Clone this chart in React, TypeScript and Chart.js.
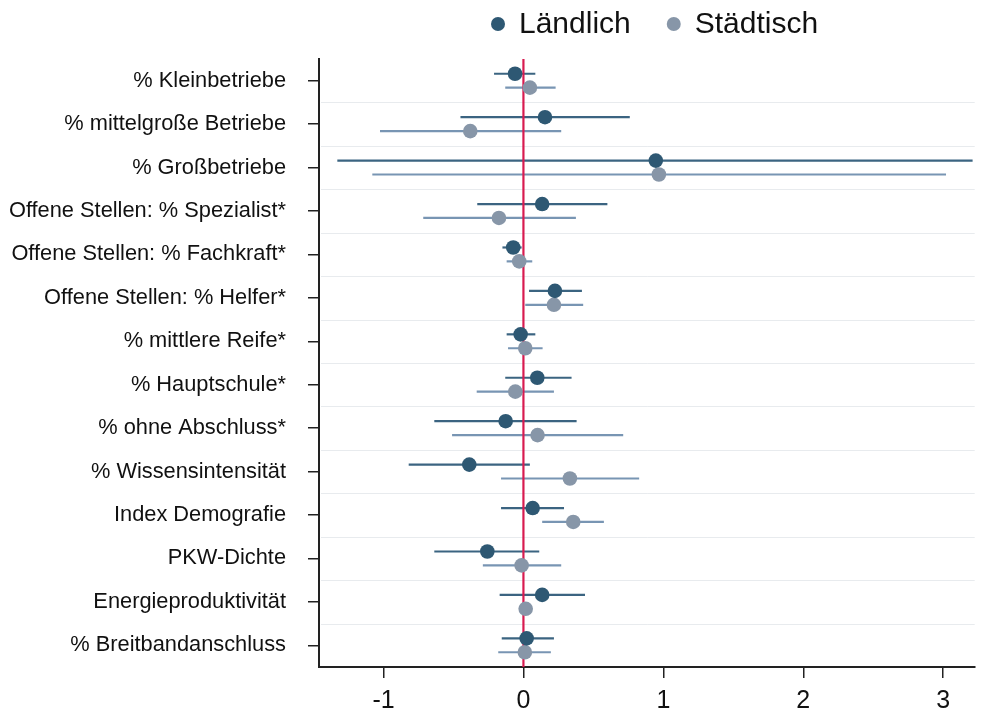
import React, { useEffect, useRef } from "react";
import { Chart, registerables } from "chart.js";

Chart.register(...registerables);

const categories = [
  "% Kleinbetriebe",
  "% mittelgroße Betriebe",
  "% Großbetriebe",
  "Offene Stellen: % Spezialist*",
  "Offene Stellen: % Fachkraft*",
  "Offene Stellen: % Helfer*",
  "% mittlere Reife*",
  "% Hauptschule*",
  "% ohne Abschluss*",
  "% Wissensintensität",
  "Index Demografie",
  "PKW-Dichte",
  "Energieproduktivität",
  "% Breitbandanschluss",
];

const seriesNames = ["Ländlich", "Städtisch"];

const landEst = [-0.06, 0.154, 0.946, 0.134, -0.073, 0.225, -0.02, 0.099, -0.127, -0.387, 0.066, -0.258, 0.134, 0.023];
const landLo = [-0.21, -0.45, -1.33, -0.33, -0.15, 0.04, -0.12, -0.13, -0.637, -0.82, -0.16, -0.637, -0.17, -0.155];
const landHi = [0.085, 0.76, 3.21, 0.6, -0.013, 0.418, 0.085, 0.344, 0.38, 0.046, 0.29, 0.113, 0.44, 0.218];

const stadtEst = [0.046, -0.38, 0.968, -0.175, -0.03, 0.218, 0.013, -0.058, 0.101, 0.332, 0.356, -0.013, 0.016, 0.01];
const stadtLo = [-0.13, -1.025, -1.08, -0.716, -0.12, 0.013, -0.11, -0.334, -0.51, -0.16, 0.134, -0.29, -0.01, -0.18];
const stadtHi = [0.23, 0.27, 3.02, 0.375, 0.063, 0.427, 0.137, 0.218, 0.713, 0.827, 0.575, 0.27, 0.04, 0.196];

const xTickValues = [-1, 0, 1, 2, 3];

const FONT = "'Liberation Sans', Arial, Helvetica, sans-serif";
const DARK_PT = "#2e5873";
const LIGHT_PT = "#8796a8";
const DARK_LINE = "#3b6481";
const LIGHT_LINE = "#7895b3";
const RED = "#d81b50";
const OFFSET = 0.16;

export default function App() {
  const ref = useRef<HTMLCanvasElement | null>(null);

  useEffect(() => {
    if (!ref.current) return;

    const errorBars = {
      id: "errorBars",
      beforeDatasetsDraw(chart: any) {
        const { ctx, chartArea, scales } = chart;
        const x = scales.x;
        const y = scales.y;
        ctx.save();
        ctx.strokeStyle = "#e8ebee";
        ctx.lineWidth = 1;
        for (let i = 1; i < categories.length; i++) {
          const py = Math.round(y.getPixelForValue(i + 0.5)) + 0.5;
          ctx.beginPath();
          ctx.moveTo(chartArea.left + 2, py);
          ctx.lineTo(chartArea.right, py);
          ctx.stroke();
        }
        const drawSet = (lo: number[], hi: number[], off: number, color: string) => {
          ctx.strokeStyle = color;
          ctx.lineWidth = 2.2;
          lo.forEach((l, i) => {
            const py = y.getPixelForValue(i + 1 + off);
            ctx.beginPath();
            ctx.moveTo(x.getPixelForValue(l), py);
            ctx.lineTo(x.getPixelForValue(hi[i]), py);
            ctx.stroke();
          });
        };
        drawSet(landLo, landHi, -OFFSET, DARK_LINE);
        drawSet(stadtLo, stadtHi, OFFSET, LIGHT_LINE);
        const zx = x.getPixelForValue(0);
        ctx.strokeStyle = RED;
        ctx.lineWidth = 2.2;
        ctx.beginPath();
        ctx.moveTo(zx, chartArea.top);
        ctx.lineTo(zx, chartArea.bottom);
        ctx.stroke();
        ctx.restore();
      },
      afterDraw(chart: any) {
        const { ctx } = chart;
        ctx.save();
        ctx.font = `30px ${FONT}`;
        ctx.textBaseline = "middle";
        ctx.textAlign = "left";
        const colors = [DARK_PT, LIGHT_PT];
        let lx = 491;
        const ly = 24;
        seriesNames.forEach((name, i) => {
          ctx.fillStyle = colors[i];
          ctx.beginPath();
          ctx.arc(lx + 7, ly, 7, 0, Math.PI * 2);
          ctx.fill();
          ctx.fillStyle = "#111";
          ctx.fillText(name, lx + 28, ly + 1);
          lx += 28 + ctx.measureText(name).width + 36;
        });
        ctx.restore();
      },
    };

    const chart = new Chart(ref.current, {
      type: "scatter",
      data: {
        datasets: [
          {
            label: seriesNames[0],
            data: landEst.map((v, i) => ({ x: v, y: i + 1 - OFFSET })),
            backgroundColor: DARK_PT,
            borderWidth: 0,
            pointRadius: 7.3,
          },
          {
            label: seriesNames[1],
            data: stadtEst.map((v, i) => ({ x: v, y: i + 1 + OFFSET })),
            backgroundColor: LIGHT_PT,
            borderWidth: 0,
            pointRadius: 7.3,
          },
        ],
      },
      options: {
        animation: false,
        responsive: true,
        maintainAspectRatio: false,
        layout: { padding: { top: 59, right: 0, bottom: 0, left: 0 } },
        plugins: {
          legend: { display: false },
          tooltip: { enabled: false },
        },
        scales: {
          x: {
            type: "linear",
            min: -1.461,
            max: 3.225,
            afterBuildTicks: (s: any) => {
              s.ticks = xTickValues.map((v) => ({ value: v }));
            },
            afterFit: (s: any) => {
              s.height = 46;
            },
            ticks: {
              font: { family: FONT, size: 25 },
              color: "#111",
              padding: 8,
              callback: (v: any) => String(v),
            },
            grid: {
              drawOnChartArea: false,
              drawTicks: true,
              tickLength: 11,
              color: "#222",
              lineWidth: 1.5,
            },
            border: { display: true, color: "#222", width: 2 },
          },
          y: {
            type: "linear",
            reverse: true,
            min: 0.5,
            max: categories.length + 0.5,
            afterBuildTicks: (s: any) => {
              s.ticks = categories.map((_, i) => ({ value: i + 1 }));
            },
            afterFit: (s: any) => {
              s.width = 319;
            },
            ticks: {
              font: { family: FONT, size: 21.8 },
              color: "#111",
              padding: 22,
              autoSkip: false,
              callback: (v: any) => categories[Math.round(v) - 1] ?? "",
            },
            grid: {
              drawOnChartArea: false,
              drawTicks: true,
              tickLength: 11,
              color: "#222",
              lineWidth: 1.5,
            },
            border: { display: true, color: "#222", width: 2 },
          },
        },
      },
      plugins: [errorBars],
    });

    return () => chart.destroy();
  }, []);

  return (
    <div style={{ position: "fixed", left: 0, top: 0, width: 982, height: 713, background: "#fff" }}>
      <canvas ref={ref} />
    </div>
  );
}
